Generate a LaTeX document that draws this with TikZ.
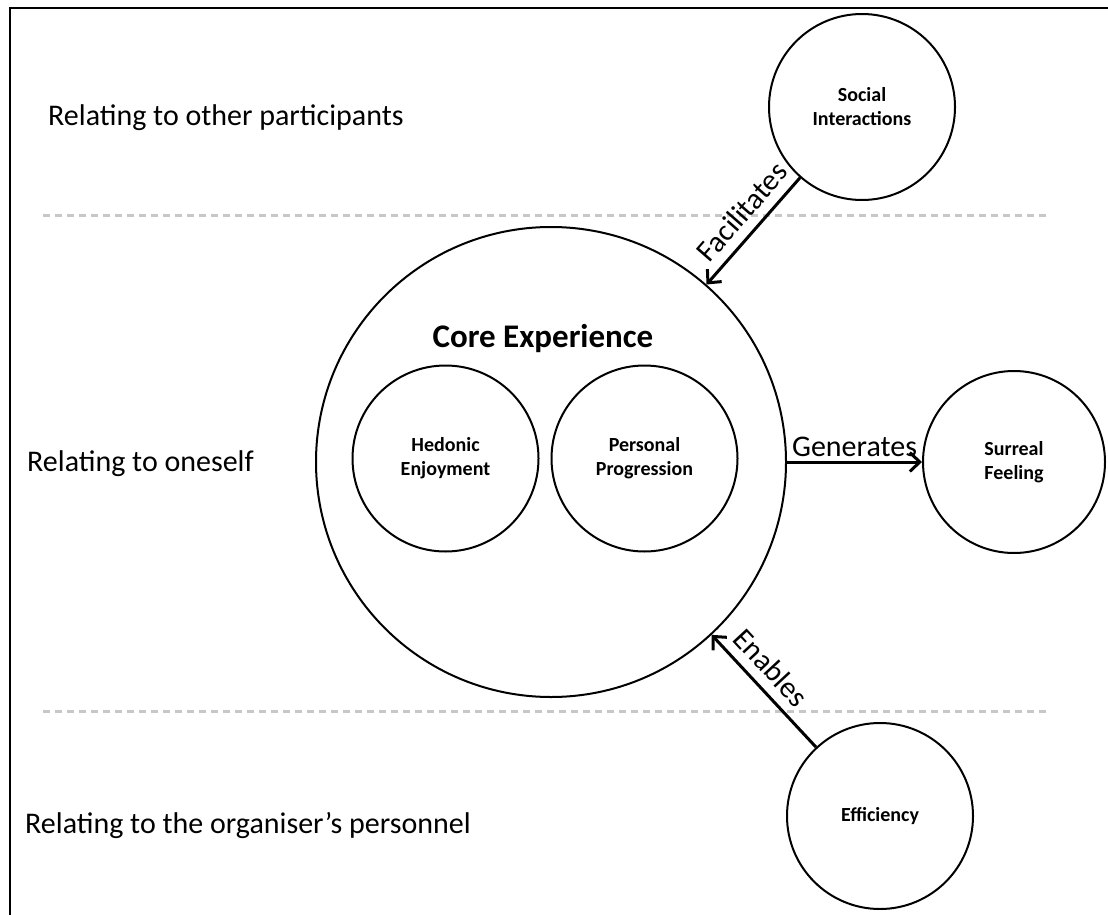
\documentclass[tikz,border=0pt]{standalone}
\usepackage{fontspec}
\setmainfont{Carlito}
\usetikzlibrary{positioning,arrows.meta}

\begin{document}
\begin{tikzpicture}[x=1pt,y=-1pt,
        bubble/.style={draw,circle,line width=2pt,inner sep=0pt,align=center,
            minimum size=186pt,font=\fontsize{20}{24}\selectfont\bfseries},
        link/.style={-{Straight Barb[length=10pt,width=19pt]},line width=3pt},
        linklabel/.style={font=\fontsize{30}{36}\selectfont},
        level/.style={anchor=base west,inner sep=0pt,font=\fontsize{30}{36}\selectfont},
        divider/.style={line width=3pt,black!22,dash pattern=on 7pt off 5pt}]
        \useasboundingbox (0,0) rectangle (1108,915);
        % frame
        \draw[line width=2.5pt] (10,915) -- (10,8) -- (1108,8);
        \draw[divider] (43,215) -- (1048,215);
        \draw[divider] (43,711) -- (1048,711);

        \node[level] (others) at (48,126) {Relating to other participants};
        \node[level] (oneself) at (27,471) {Relating to oneself};
        \node[level] (personnel) at (25,833) {Relating to the organiser’s personnel};

        \node[bubble,minimum size=470pt] (core) at (551,462) {};
        \node[anchor=base,font=\fontsize{33}{40}\selectfont\bfseries] (coretitle) at (543,347) {Core Experience};
        \node[bubble] (hedonic) at (445.5,458.5) {Hedonic\\Enjoyment};
        \node[bubble] (personal) at (644.5,458.5) {Personal\\Progression};

        \node[bubble] (social) at (862,107) {Social\\Interactions};
        \node[bubble,minimum size=182pt] (surreal) at (1014,462) {Surreal\\Feeling};
        \node[bubble] (efficiency) at (880,816) {Efficiency};

        \draw[link] (social) -- node[linklabel,above=6pt,sloped,pos=0.45] {Facilitates} (core);
        \draw[link] (core) -- node[linklabel,above] {Generates} (surreal);
        \draw[link] (efficiency) -- node[linklabel,above=6pt,sloped,pos=0.58] {Enables} (core);
\end{tikzpicture}
\end{document}
